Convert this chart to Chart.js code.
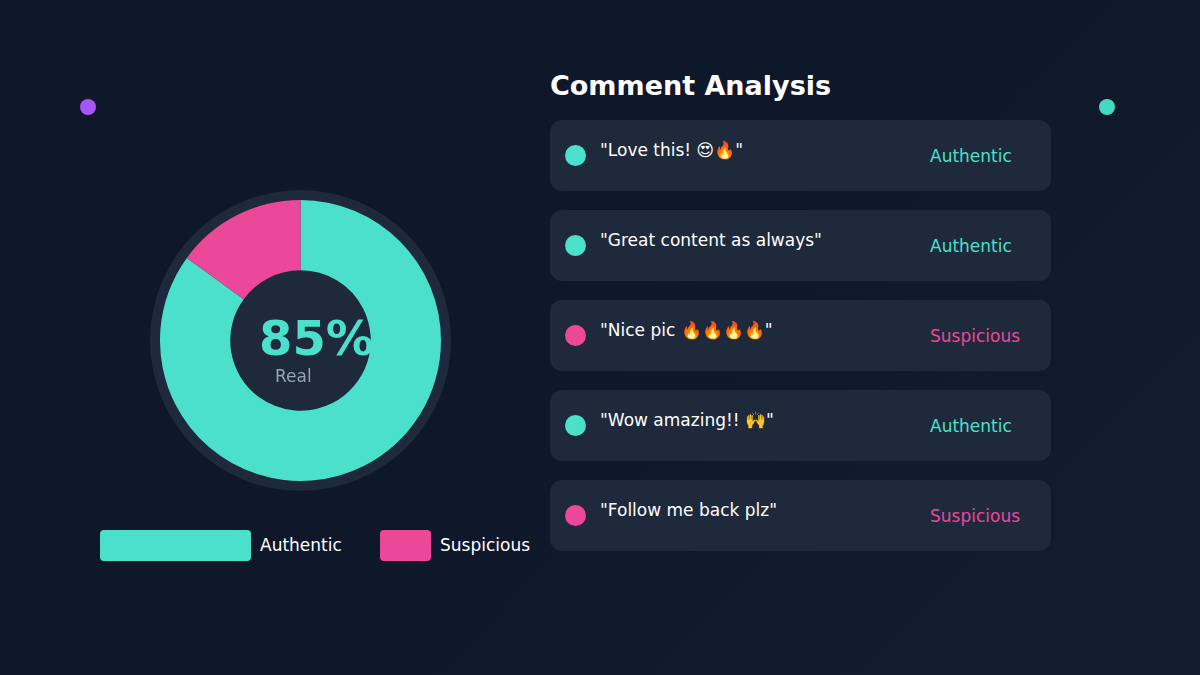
<!DOCTYPE html>
<html><head><meta charset="utf-8">
<script src="https://cdn.jsdelivr.net/npm/chart.js@4.4.0/dist/chart.umd.min.js"></script>
<style>
body{margin:0;width:1200px;height:675px;overflow:hidden;background:linear-gradient(135deg,#0f172a 0%,#0f172a 50%,#141c30 100%);font-family:"DejaVu Sans",sans-serif;position:relative}
.abs{position:absolute}
.dot{position:absolute;width:16px;height:16px;border-radius:50%}
.card{position:absolute;left:550px;width:501px;height:71px;background:#1e293b;border-radius:12px}
.card .c{position:absolute;left:15px;top:25px;width:21px;height:21px;border-radius:50%}
.card .t{position:absolute;left:50px;top:20px;color:#fff;font-size:17px}
.card .s{position:absolute;left:380px;top:26px;font-size:17px}
</style></head><body>
<div class="dot" style="left:80px;top:99px;background:#a855f7"></div>
<div class="dot" style="left:1099px;top:99px;background:#4ade80;background:#45d9c4"></div>
<div class="abs" style="left:150px;top:190px;width:301px;height:301px;border-radius:50%;background:#1e293b"></div>
<div class="abs" style="left:160px;top:200px;width:281px;height:281px"><canvas id="c"></canvas></div>
<div class="abs" style="left:259px;top:314px;color:#4ade9f;color:#4be0cb;font-size:48px;font-weight:bold;line-height:1">85%</div>
<div class="abs" style="left:275px;top:366px;color:#94a3b8;font-size:17px">Real</div>
<div class="abs" style="left:550px;top:70px;color:#fff;font-size:27px;font-weight:bold">Comment Analysis</div>
<div id="cards"></div>
<div class="abs" style="left:100px;top:530px;width:151px;height:31px;border-radius:4px;background:#4be0cb"></div>
<div class="abs" style="left:260px;top:535px;color:#fff;font-size:17px">Authentic</div>
<div class="abs" style="left:380px;top:530px;width:51px;height:31px;border-radius:4px;background:#ec4899"></div>
<div class="abs" style="left:440px;top:535px;color:#fff;font-size:17px">Suspicious</div>
<script>
const categories=["Authentic","Suspicious"];
const values=[85,15];
const colors=["#4be0cb","#ec4899"];
const comments=['"Love this! 😍🔥"','"Great content as always"','"Nice pic 🔥🔥🔥🔥"','"Wow amazing!! 🙌"','"Follow me back plz"'];
const verdicts=["Authentic","Authentic","Suspicious","Authentic","Suspicious"];
let h="";
comments.forEach((c,i)=>{const col=verdicts[i]==="Authentic"?colors[0]:colors[1];
h+=`<div class="card" style="top:${120+i*90}px"><div class="c" style="background:${col}"></div><div class="t">${c}</div><div class="s" style="color:${col}">${verdicts[i]}</div></div>`;});
document.getElementById('cards').innerHTML=h;
new Chart(document.getElementById('c'),{type:'doughnut',data:{labels:categories,datasets:[{data:values,backgroundColor:colors,borderWidth:0}]},
options:{responsive:true,maintainAspectRatio:false,animation:false,cutout:'50%',plugins:{legend:{display:false},tooltip:{enabled:false}}}});
</script></body></html>
